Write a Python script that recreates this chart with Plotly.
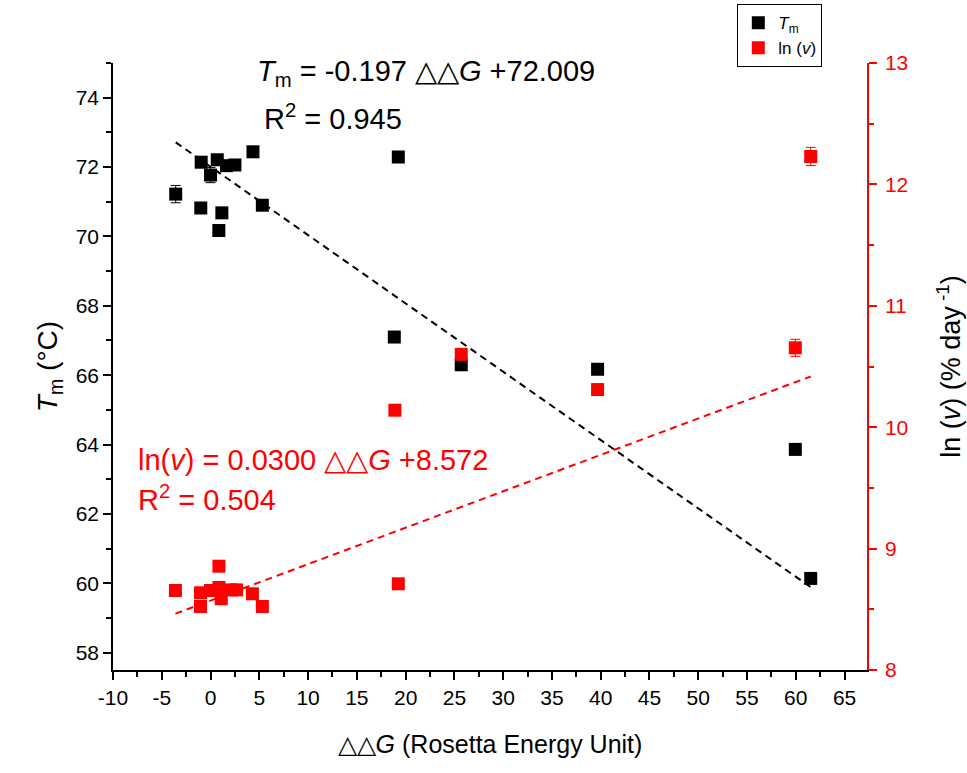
import plotly.graph_objects as go

# Melting temperature vs. Rosetta ddG
dg_tm = [-3.57, -0.96, -1.0, 0.0, 0.69, 0.85, 1.16, 1.64, 2.5, 4.35, 5.31,
         18.84, 19.25, 25.7, 39.68, 59.95, 61.53]
tm = [71.22, 72.14, 70.82, 71.77, 72.21, 70.17, 70.68, 72.04, 72.06, 72.44, 70.9,
      67.1, 72.29, 66.3, 66.17, 63.86, 60.14]
tm_err = [0.25, 0.05, 0.05, 0.22, 0.05, 0.05, 0.05, 0.05, 0.05, 0.05, 0.05,
          0.05, 0.05, 0.05, 0.05, 0.05, 0.05]

# ln of degradation rate vs. Rosetta ddG
dg_v = [-3.6, -1.03, -1.03, 0.0, 0.86, 0.86, 1.1, 2.06, 2.67, 4.29, 5.31,
        18.9, 19.25, 25.7, 39.68, 59.95, 61.53]
lnv = [8.655, 8.636, 8.523, 8.655, 8.68, 8.855, 8.587, 8.66, 8.66, 8.628, 8.523,
       10.14, 8.71, 10.6, 10.31, 10.654, 12.23]
lnv_err = [0.02] * 11 + [0.02, 0.02, 0.02, 0.02, 0.07, 0.075]

# Linear fit coefficients
tm_slope, tm_icpt, tm_r2 = -0.197, 72.009, 0.945
v_slope, v_icpt, v_r2 = 0.0300, 8.572, 0.504

# Tick labels
x_ticks = list(range(-10, 70, 5))
x_labels = [str(v) for v in x_ticks]

FONT = "Arial, Liberation Sans, sans-serif"
RED = "#ff0000"

fig = go.Figure()

fig.add_trace(go.Scatter(
    x=dg_tm, y=tm, mode="markers", name="<i>T</i><sub>m</sub>",
    marker=dict(symbol="square", size=13, color="black", line=dict(width=0)),
    error_y=dict(type="data", array=tm_err, color="black", thickness=1, width=5),
))
fig.add_trace(go.Scatter(
    x=dg_v, y=lnv, mode="markers", name="ln (<i>v</i>)", yaxis="y2",
    marker=dict(symbol="square", size=13, color=RED, line=dict(width=0)),
    error_y=dict(type="data", array=lnv_err, color=RED, thickness=1, width=5),
))

# Fitted lines across the data range
x0, x1 = min(dg_tm), max(dg_tm)
fig.add_trace(go.Scatter(
    x=[x0, x1], y=[tm_slope * x0 + tm_icpt, tm_slope * x1 + tm_icpt],
    mode="lines", line=dict(color="black", width=2, dash="7px,5px"),
    showlegend=False, hoverinfo="skip",
))
x0, x1 = min(dg_v), max(dg_v)
fig.add_trace(go.Scatter(
    x=[x0, x1], y=[v_slope * x0 + v_icpt, v_slope * x1 + v_icpt],
    mode="lines", line=dict(color=RED, width=2, dash="7px,5px"), yaxis="y2",
    showlegend=False, hoverinfo="skip",
))

ann_font = dict(family=FONT, size=29)
annotations = [
    dict(x=4.55, y=74.72, xref="x", yref="y", xanchor="left", yanchor="middle",
         showarrow=False, font=dict(ann_font, color="black"),
         text=f"<i>T</i><sub>m</sub> = {tm_slope} \u25b3\u25b3<i>G</i> +{tm_icpt}"),
    dict(x=5.25, y=73.45, xref="x", yref="y", xanchor="left", yanchor="middle",
         showarrow=False, font=dict(ann_font, color="black"),
         text=f"R<sup>2</sup> = {tm_r2}"),
    dict(x=-7.6, y=63.55, xref="x", yref="y", xanchor="left", yanchor="middle",
         showarrow=False, font=dict(ann_font, color=RED),
         text=f"ln(<i>v</i>) = {v_slope:.4f} \u25b3\u25b3<i>G</i> +{v_icpt}"),
    dict(x=-7.6, y=62.45, xref="x", yref="y", xanchor="left", yanchor="middle",
         showarrow=False, font=dict(ann_font, color=RED),
         text=f"R<sup>2</sup> = {v_r2}"),
]

fig.update_layout(
    width=967, height=773,
    margin=dict(l=113, r=100, t=63, b=103, autoexpand=False),
    paper_bgcolor="white", plot_bgcolor="white",
    font=dict(family=FONT, size=21, color="black"),
    annotations=annotations,
    legend=dict(x=0.828, y=1.097, xanchor="left", yanchor="top",
                bordercolor="black", borderwidth=1, bgcolor="white",
                font=dict(family=FONT, size=17), itemwidth=30,
                tracegroupgap=0),
    xaxis=dict(
        range=[-10, 67.3], tickvals=x_ticks, ticktext=x_labels,
        ticks="outside", ticklen=8,
        tickwidth=1.5, tickcolor="black", showline=True, linecolor="black",
        linewidth=1.5, showgrid=False, zeroline=False,
        minor=dict(tick0=-10, dtick=2.5, ticks="outside", ticklen=5,
                   tickwidth=1.5, tickcolor="black", showgrid=False),
        title=dict(text="\u25b3\u25b3<i>G</i> (Rosetta Energy Unit)",
                   font=dict(family=FONT, size=25), standoff=28),
    ),
    yaxis=dict(
        range=[57.5, 75], tick0=58, dtick=2, ticks="outside", ticklen=8,
        tickwidth=1.5, tickcolor="black", showline=True, linecolor="black",
        linewidth=1.5, showgrid=False, zeroline=False,
        minor=dict(tick0=58, dtick=1, ticks="outside", ticklen=5,
                   tickwidth=1.5, tickcolor="black", showgrid=False),
        title=dict(text="<i>T</i><sub>m</sub> (\u00b0C)",
                   font=dict(family=FONT, size=28), standoff=10),
    ),
    yaxis2=dict(
        range=[8, 13], tick0=8, dtick=1, overlaying="y", side="right",
        ticks="outside", ticklen=8, tickwidth=1.5, tickcolor=RED,
        tickfont=dict(color=RED), showline=True, linecolor=RED,
        linewidth=1.5, showgrid=False, zeroline=False, ticklabelstandoff=4,
        minor=dict(tick0=8, dtick=0.5, ticks="outside", ticklen=5,
                   tickwidth=1.5, tickcolor=RED, showgrid=False),
        title=dict(text="ln (<i>v</i>) (% day<sup> -1</sup>)",
                   font=dict(family=FONT, size=27, color="black"), standoff=34),
    ),
)

fig.write_html("out.html")
